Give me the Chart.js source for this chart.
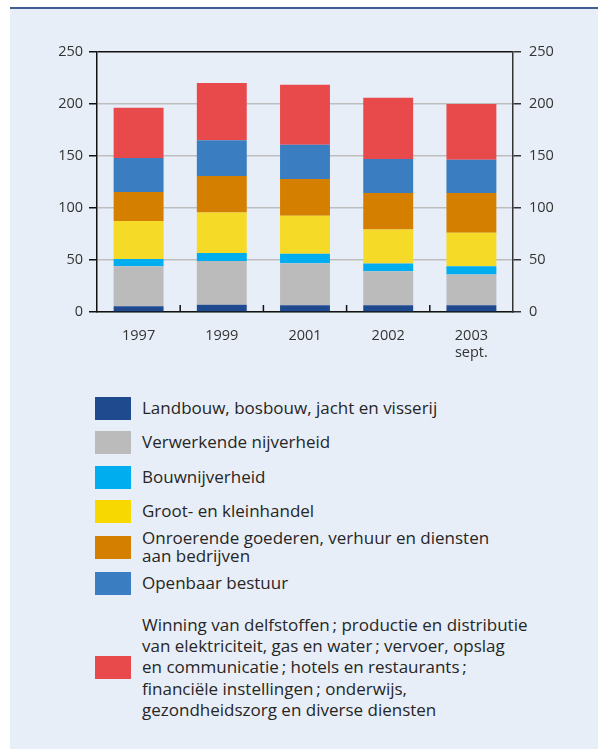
<!DOCTYPE html>
<html>
<head>
<meta charset="utf-8">
<script src="https://cdn.jsdelivr.net/npm/chart.js@4/dist/chart.umd.min.js"></script>
<style>
    body { margin: 0; background: #fff; width: 598px; height: 749px; overflow: hidden; position: relative; font-family: "Open Sans", sans-serif; }
    #paneel { position: absolute; left: 10px; top: 7px; width: 588px; height: 742px; background: #E8EEF7; border-top: 2px solid #3F5F92; }
    #grafiek { position: absolute; left: 0; top: 0; width: 598px; height: 370px; }
    .item { position: absolute; left: 95px; }
    .vak { position: absolute; left: 0; width: 36px; height: 23px; }
    .tekst { position: absolute; left: 47px; font-size: 17px; color: #262626; white-space: nowrap; }
</style>
</head>
<body>
<div id="paneel"></div>
<div id="grafiek"><canvas id="myChart"></canvas></div>
<div id="legenda"></div>

<script>
// === Gegevens ===
const jaren = ["1997", "1999", "2001", "2002", ["2003", "sept."]];

const landbouw     = [5.5, 7.0, 6.4, 6.4, 6.4];
const verwerkend   = [38.5, 42.0, 40.5, 32.8, 29.6];
const bouw         = [7.0, 7.7, 9.0, 7.4, 8.0];
const handel       = [36.5, 39.0, 36.6, 32.8, 32.2];
const onroerend    = [28.0, 35.0, 35.4, 35.0, 38.2];
const openbaar     = [32.5, 34.4, 32.8, 32.8, 32.1];
const overig       = [48.5, 55.2, 57.8, 58.8, 53.4];

const yTicks = [0, 50, 100, 150, 200, 250];

const namen = [
    "Landbouw, bosbouw, jacht en visserij",
    "Verwerkende nijverheid",
    "Bouwnijverheid",
    "Groot- en kleinhandel",
    "Onroerende goederen, verhuur en diensten<br>aan bedrijven",
    "Openbaar bestuur",
    "Winning van delfstoffen\u2009; productie en distributie<br>van elektriciteit, gas en water\u2009; vervoer, opslag<br>en communicatie\u2009; hotels en restaurants\u2009;<br>financiële instellingen\u2009; onderwijs,<br>gezondheidszorg en diverse diensten"
];
const balkKleuren  = ["#1F4A8F", "#BBBBBB", "#00AEEF", "#F6DA28", "#D47F00", "#3A7EC1", "#E84A4C"];
const vakKleuren   = ["#1F4B8E", "#BBBBBB", "#00AEEF", "#F7D800", "#D47F00", "#3A7EC1", "#E84A4C"];

// === Legenda (HTML) ===
const legendaPos = [
    { y: 408, lh: 18 },
    { y: 442, lh: 18 },
    { y: 477, lh: 18 },
    { y: 511, lh: 18 },
    { y: 547, lh: 18 },
    { y: 583, lh: 18 },
    { y: 667, lh: 21.2 }
];
const legenda = document.getElementById("legenda");
namen.forEach((naam, i) => {
    const regels = naam.split("<br>").length;
    const h = regels * legendaPos[i].lh;
    legenda.innerHTML += `
        <div class="item" style="top:${legendaPos[i].y}px">
            <div class="vak" style="top:-11.5px;background:${vakKleuren[i]}"></div>
            <div class="tekst" style="top:${-h / 2}px;line-height:${legendaPos[i].lh}px">${naam}</div>
        </div>`;
});

// === Kleine streepjes tussen de jaren, naar binnen ===
const tussenStreepjes = {
    id: "tussenStreepjes",
    afterDatasetsDraw(chart) {
        const x = chart.scales.x;
        const ctx = chart.ctx;
        const onder = chart.chartArea.bottom;
        ctx.save();
        ctx.strokeStyle = "#111";
        ctx.lineWidth = 1.5;
        for (let i = 0; i < jaren.length - 1; i++) {
            const px = (x.getPixelForTick(i) + x.getPixelForTick(i + 1)) / 2;
            ctx.beginPath();
            ctx.moveTo(px, onder);
            ctx.lineTo(px, onder - 7);
            ctx.stroke();
        }
        ctx.restore();
    }
};

const reeksen = [landbouw, verwerkend, bouw, handel, onroerend, openbaar, overig];
const tickFont = { family: "Open Sans", size: 14.5 };

new Chart("myChart", {
    type: "bar",
    data: {
        labels: jaren,
        datasets: reeksen.map((data, i) => ({
            label: namen[i],
            data: data,
            backgroundColor: balkKleuren[i],
            borderWidth: 0,
            barPercentage: 0.6,
            categoryPercentage: 1
        }))
    },
    options: {
        responsive: true,
        maintainAspectRatio: false,
        animation: false,
        layout: { padding: { top: 52, left: 0, right: 0, bottom: 0 } },
        plugins: {
            legend: { display: false },
            tooltip: { enabled: false }
        },
        scales: {
            x: {
                stacked: true,
                grid: { display: false },
                border: { color: "#111", width: 1.5 },
                ticks: { color: "#333", font: tickFont, padding: 7 },
                afterFit: (s) => { s.height = 58; }
            },
            y: {
                stacked: true,
                min: 0,
                max: 250,
                afterBuildTicks: (s) => { s.ticks = yTicks.map((v) => ({ value: v })); },
                grid: {
                    color: (c) => (c.tick.value === 250 ? "#111" : "#BDBDBD"),
                    lineWidth: 1.5,
                    tickColor: "#111",
                    tickLength: 8
                },
                border: { color: "#111", width: 1.5 },
                ticks: { color: "#333", font: tickFont, padding: 6 },
                afterFit: (s) => { s.width = 97; }
            },
            y2: {
                position: "right",
                min: 0,
                max: 250,
                afterBuildTicks: (s) => { s.ticks = yTicks.map((v) => ({ value: v })); },
                grid: { drawOnChartArea: false, tickColor: "#333", tickLength: 8, lineWidth: 1.5 },
                border: { color: "#333", width: 1.5 },
                ticks: { color: "#333", font: tickFont, padding: 8 },
                afterFit: (s) => { s.width = 85; }
            }
        }
    },
    plugins: [tussenStreepjes]
});
</script>
</body>
</html>
